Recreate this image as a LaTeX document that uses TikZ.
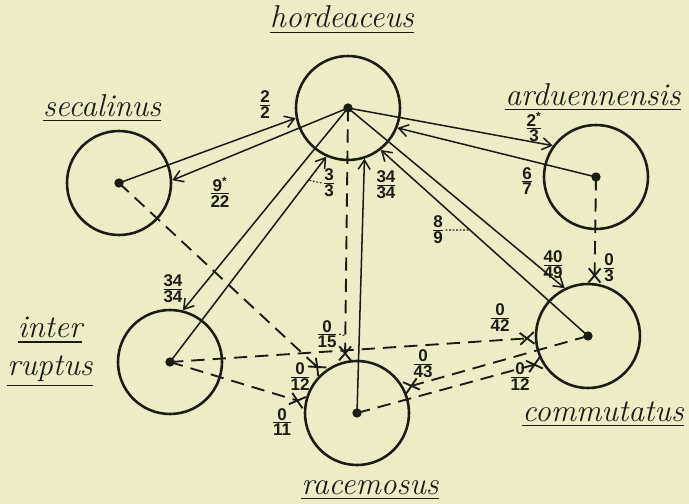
\documentclass[tikz,border=0pt]{standalone}
\usepackage{amsmath}
\usepackage{fontspec}
\setsansfont{Liberation Sans}
\usetikzlibrary{arrows.meta,calc}
\definecolor{paper}{RGB}{238,236,196}
\definecolor{ink}{RGB}{28,28,22}
\newcommand{\fr}[2]{$\genfrac{}{}{0.9pt}{}{\mbox{#1}}{\mbox{#2}}$}

\begin{document}
\begin{tikzpicture}[x=0.03cm, y=-0.03cm,
  pop/.style={draw=ink, circle, line width=2.2pt, minimum size=3.12cm, inner sep=0pt},
  dot/.style={circle, fill=ink, inner sep=0pt, minimum size=2.8mm},
  spname/.style={font=\fontsize{27}{32}\selectfont\itshape, text=ink, align=center, inner sep=0.5pt},
  num/.style={font=\sffamily\bfseries\fontsize{14.5}{16}\selectfont, text=ink, inner sep=1pt},
  arr/.style={draw=ink, line width=1.3pt, -{Straight Barb[length=2.8mm,width=3.6mm]}},
  cross/.style={draw=ink, line width=1.6pt, dash pattern=on 4mm off 2.4mm, -{Rays[n=4,length=6mm,width=5mm]}},
  lead/.style={draw=ink, line width=0.9pt, dash pattern=on 1.5pt off 1.5pt}]
\path[use as bounding box, fill=paper] (0,0) rectangle (689,504);
\node[pop] (hor) at (348,108) {};
\node[pop] (sec) at (119,183) {};
\node[pop] (ard) at (596,177) {};
\node[pop] (int) at (170,362) {};
\node[pop] (rac) at (357,413) {};
\node[pop] (com) at (588,336) {};
\node[spname, anchor=base] (nhor) at (342,28) {\underline{hordeaceus}};
\node[spname, anchor=base] (nsec) at (102,116) {\underline{secalinus}};
\node[spname, anchor=base] (nard) at (593,105) {\underline{arduennensis}};
\node[spname] (nint) at (50,352) {\underline{inter}\\\underline{ruptus}};
\node[spname, anchor=base] (nrac) at (370,494) {\underline{racemosus}};
\node[spname, anchor=base] (ncom) at (603,421) {\underline{commutatus}};
\draw[arr] (sec.center) -- (hor.191); \draw[arr] (hor.center) -- (sec.3);
\draw[arr] (hor.center) -- (ard.144); \draw[arr] (ard.center) -- (hor.338);
\draw[arr] (hor.center) -- (int.76); \draw[arr] (int.center) -- (hor.246);
\draw[arr] (rac.center) -- (hor.288);
\draw[arr] (hor.center) -- (com.116); \draw[arr] (com.center) -- (hor.308);
\draw[cross] (hor.center) -- (rac.103); \draw[cross] (ard.center) -- (com.83);
\draw[cross] (sec.center) -- (rac.130);
\draw[cross] (int.center) -- (com.182); \draw[cross] (int.center) -- (rac.169);
\draw[cross] (com.center) -- (rac.28); \draw[cross] (rac.center) -- (com.210);
\foreach \p in {hor,sec,ard,int,rac,com} \node[dot] (d\p) at (\p) {};
\node[num] (f22) at (265,105) {\fr{2}{2}};
\node[num] (f922) at (220,192) {\fr{9\textsuperscript{*}}{22}};
\node[num] (f33) at (329,183) {\fr{3}{3}};
\node[num] (f3434a) at (386,185) {\fr{34}{34}};
\node[num] (f23) at (534,127) {\fr{2\textsuperscript{*}}{3}};
\node[num] (f67) at (527,181) {\fr{6}{7}};
\node[num] (f89) at (438,230) {\fr{8}{9}};
\node[num] (f4049) at (553,265) {\fr{40}{49}};
\node[num] (f03) at (609,268) {\fr{0}{3}};
\node[num] (f3434b) at (173,289) {\fr{34}{34}};
\node[num] (f015) at (327,334) {\fr{0}{15}};
\node[num] (f012a) at (300,377) {\fr{0}{12}};
\node[num] (f011) at (282,422) {\fr{0}{11}};
\node[num] (f043) at (423,364) {\fr{0}{43}};
\node[num] (f042) at (500,318) {\fr{0}{42}};
\node[num] (f012b) at (520,377) {\fr{0}{12}};
\draw[lead] (f33.west) -- ($(int.center)!0.886!(hor.246)$);
\draw[lead] (f015.east) -- ($(hor.center)!0.9!(rac.103)$);
\draw[lead] (f89.east) -- ($(com.center)!0.57!(hor.308)$);
\end{tikzpicture}
\end{document}
